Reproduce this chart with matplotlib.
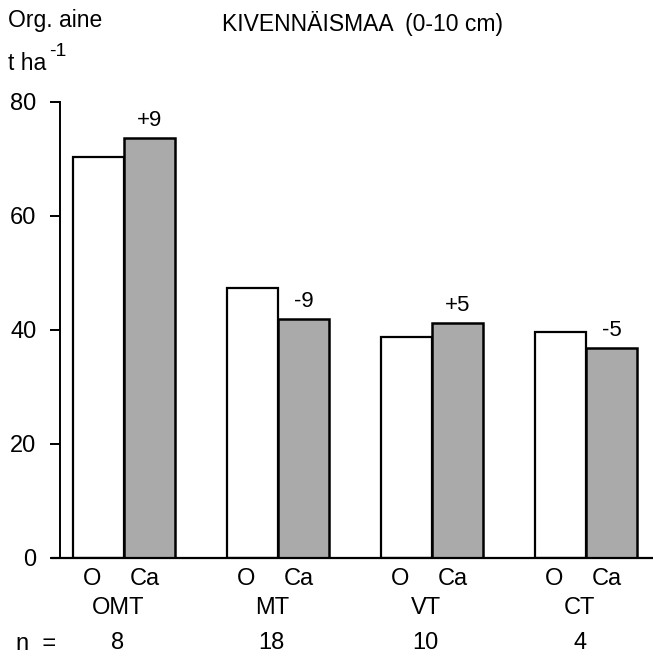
import matplotlib
matplotlib.use("Agg")
import matplotlib.pyplot as plt
import numpy as np

plt.rcParams['font.family'] = ['Liberation Sans', 'DejaVu Sans']

groups = ["OMT", "MT", "VT", "CT"]
n_values = ["8", "18", "10", "4"]
o_values = [70.4, 47.4, 38.7, 39.6]
ca_values = [73.7, 41.9, 41.2, 36.8]
change_labels = ["+9", "-9", "+5", "-5"]
yticks = [0, 20, 40, 60, 80]

W, H = 653, 656
fig = plt.figure(figsize=(W / 100, H / 100), dpi=100)
ax = fig.add_axes([60 / W, 98 / H, (W - 60) / W, 456 / H])

x = np.arange(len(groups))
bw = 0.331
ax.bar(x - bw / 2, o_values, bw, color="white", edgecolor="black", linewidth=1.6, zorder=2)
ax.bar(x + bw / 2, ca_values, bw, color="#aaaaaa", edgecolor="black", linewidth=1.8, zorder=2)

for xi, v, lab in zip(x, ca_values, change_labels):
    ax.annotate(lab, (xi + bw / 2, v), xytext=(0, 5), textcoords="offset points",
                ha="center", va="bottom", fontsize=16)

ax.set_xlim(-0.4156, 3.435)
ax.set_ylim(0, 80)
ax.set_yticks(yticks)
ax.tick_params(axis="y", direction="out", length=7, width=1.4, labelsize=17, pad=10)
ax.set_xticks([])
for s in ["top", "right"]:
    ax.spines[s].set_visible(False)
ax.spines["left"].set_linewidth(1.4)
ax.spines["bottom"].set_linewidth(1.6)
ax.spines["bottom"].set_bounds(-0.47, 3.435)
ax.spines["bottom"].set_clip_on(False)
ax.patch.set_alpha(0)

trans = ax.get_xaxis_transform()
for xi, g, n in zip(x, groups, n_values):
    ax.text(xi - bw / 2 - 0.04, -0.046, "O", transform=trans, ha="center", va="center", fontsize=17)
    ax.text(xi + bw / 2 - 0.03, -0.046, "Ca", transform=trans, ha="center", va="center", fontsize=17)
    ax.text(xi - 0.04, -0.11, g, transform=trans, ha="center", va="center", fontsize=17)
    ax.text(xi - 0.04, -0.186, n, transform=trans, ha="center", va="center", fontsize=17)

fig.text(16 / W, 1 - 644 / H, "n  =", ha="left", va="center", fontsize=17)
fig.text(8 / W, 1 - 20 / H, "Org. aine", ha="left", va="center", fontsize=16.5)
fig.text(8 / W, 1 - 64 / H, "t ha", ha="left", va="center", fontsize=16.5)
fig.text(49 / W, 1 - 52 / H, "-1", ha="left", va="center", fontsize=14)
fig.text(363 / W, 1 - 23 / H, "KIVENNÄISMAA  (0-10 cm)", ha="center", va="center", fontsize=16.5)

fig.savefig("out.png", dpi=100)
